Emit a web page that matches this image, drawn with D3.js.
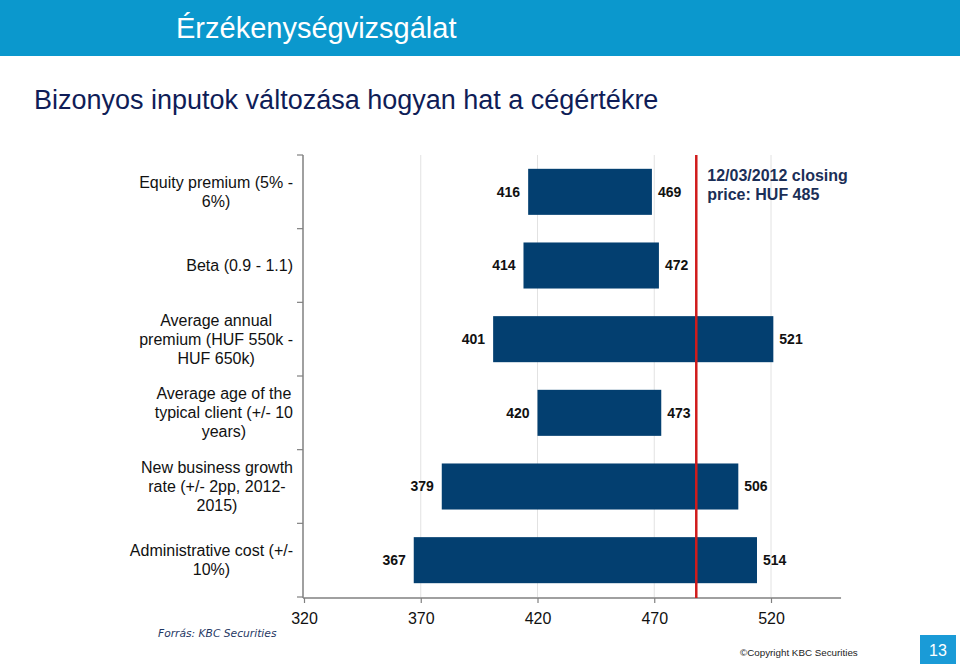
<!DOCTYPE html>
<html>
<head>
<meta charset="utf-8">
<script src="https://cdn.jsdelivr.net/npm/d3@7"></script>
<style>
  html, body { margin: 0; padding: 0; background: #fff; }
  svg { display: block; font-family: "Liberation Sans", Arial, sans-serif; }
</style>
</head>
<body>
<svg id="chart" width="960" height="664"></svg>
<script>
// ---- data ----
const categories = [
  ["Equity premium (5% -", "6%)"],
  ["Beta (0.9 - 1.1)"],
  ["Average annual", "premium (HUF 550k -", "HUF 650k)"],
  ["Average age of the", "typical client (+/- 10", "years)"],
  ["New business growth", "rate (+/- 2pp, 2012-", "2015)"],
  ["Administrative cost (+/-", "10%)"]
];
const lowValues  = [416, 414, 401, 420, 379, 367];
const highValues = [469, 472, 521, 473, 506, 514];
const tickValues = [320, 370, 420, 470, 520];
const xDomain = [320, 550];
const closingLinePosition = 488;   // where the red marker is drawn
const closingLabel = ["12/03/2012 closing", "price: HUF 485"];
const titleText = "Érzékenységvizsgálat";
const subtitleText = "Bizonyos inputok változása hogyan hat a cégértékre";
const sourceText = "Forrás: KBC Securities";
const copyrightText = "©Copyright KBC Securities";
const pageNumber = "13";

// ---- setup ----
const svg = d3.select("#chart");
const W = 960, H = 664;

// header band
svg.append("rect").attr("x", 0).attr("y", 0).attr("width", W).attr("height", 56).attr("fill", "#0b98cd");
svg.append("text").attr("x", 176).attr("y", 38).attr("fill", "#fff")
  .attr("font-size", 29).text(titleText);

svg.append("text").attr("x", 34).attr("y", 109).attr("fill", "#0f1d57")
  .attr("font-size", 27).text(subtitleText);

const keys = categories.map((c, i) => i);
const x = d3.scaleLinear().domain(xDomain).range([304, 304 + 230 * 2.335]);
const y = d3.scaleBand().domain(keys).range([155, 597]).paddingInner(0.375).paddingOuter(0.1875);

const g = svg.append("g");

// gridlines
g.selectAll("line.grid").data(tickValues.filter(d => d !== xDomain[0])).enter()
  .append("line").attr("class", "grid")
  .attr("x1", d => x(d)).attr("x2", d => x(d))
  .attr("y1", y.range()[0]).attr("y2", y.range()[1])
  .attr("stroke", "#e2e2e2").attr("stroke-width", 1);

// bars
g.selectAll("rect.bar").data(keys).enter().append("rect").attr("class", "bar")
  .attr("x", i => x(lowValues[i]))
  .attr("width", i => x(highValues[i]) - x(lowValues[i]))
  .attr("y", i => y(i)).attr("height", y.bandwidth())
  .attr("fill", "#033f70");

// value labels
g.selectAll("text.low").data(keys).enter().append("text")
  .attr("x", i => x(lowValues[i]) - 8)
  .attr("y", i => y(i) + y.bandwidth() / 2)
  .attr("dy", "0.35em").attr("text-anchor", "end")
  .attr("font-size", 14).attr("font-weight", "bold").attr("fill", "#111")
  .text(i => lowValues[i]);
g.selectAll("text.high").data(keys).enter().append("text")
  .attr("x", i => x(highValues[i]) + 6)
  .attr("y", i => y(i) + y.bandwidth() / 2)
  .attr("dy", "0.35em").attr("text-anchor", "start")
  .attr("font-size", 14).attr("font-weight", "bold").attr("fill", "#111")
  .text(i => highValues[i]);

// x axis
const xAxis = d3.axisBottom(x).tickValues(tickValues).tickSize(5).tickSizeOuter(0).tickFormat(d3.format("d"));
const ax = svg.append("g").attr("transform", `translate(0,${y.range()[1] + 1})`).call(xAxis);
ax.select(".domain").attr("stroke", "#808080").attr("stroke-width", 1.5)
  .attr("d", `M${x.range()[0] - 1},0H${x.range()[1]}`);
ax.selectAll(".tick line").attr("stroke", "#808080").attr("stroke-width", 1.2);
ax.selectAll(".tick text").attr("font-size", 16).attr("fill", "#111")
  .attr("font-family", "Liberation Sans, Arial, sans-serif").attr("y", 15);

// y axis (vertical line with boundary ticks pointing left)
const yAxisX = x.range()[0] - 1;
svg.append("line").attr("x1", yAxisX).attr("x2", yAxisX)
  .attr("y1", y.range()[0]).attr("y2", y.range()[1] + 1)
  .attr("stroke", "#808080").attr("stroke-width", 1.5);
const boundaries = d3.range(keys.length + 1).map(k => y.range()[0] + k * y.step());
svg.selectAll("line.ytick").data(boundaries).enter().append("line")
  .attr("x1", yAxisX - 6).attr("x2", yAxisX)
  .attr("y1", d => d).attr("y2", d => d)
  .attr("stroke", "#808080").attr("stroke-width", 1.2);

// category labels: lines centred within block, block right-aligned
const labelRight = 293, lineH = 19;
categories.forEach((lines, i) => {
  const t = svg.append("text").attr("font-size", 16).attr("fill", "#111").attr("text-anchor", "middle");
  const spans = lines.map(l => t.append("tspan").text(l));
  const maxW = d3.max(spans.map(s => s.node().getComputedTextLength()));
  const cx = labelRight - maxW / 2;
  const cy = y(i) + y.bandwidth() / 2;
  const top = cy - (lines.length - 1) * lineH / 2;
  spans.forEach((s, k) => s.attr("x", cx).attr("y", top + k * lineH).attr("dy", "0.35em"));
});

// red closing-price line
svg.append("line").attr("x1", x(closingLinePosition)).attr("x2", x(closingLinePosition))
  .attr("y1", y.range()[0]).attr("y2", y.range()[1] + 1)
  .attr("stroke", "#d01c1c").attr("stroke-width", 2.5);
const ann = svg.append("text").attr("font-size", 16).attr("font-weight", "bold").attr("fill", "#1b2f57");
closingLabel.forEach((l, k) => ann.append("tspan").attr("x", x(closingLinePosition) + 11)
  .attr("y", 181 + k * 19).text(l));

// footer
svg.append("text").attr("x", 158).attr("y", 637).attr("font-size", 10.7)
  .attr("font-style", "italic").attr("font-family", "DejaVu Sans, Verdana, sans-serif")
  .attr("fill", "#1f3864").text(sourceText);
svg.append("text").attr("x", 740).attr("y", 656).attr("font-size", 9.8).attr("fill", "#222")
  .text(copyrightText);
svg.append("rect").attr("x", 920).attr("y", 635).attr("width", 36).attr("height", 29).attr("fill", "#1a9bd7");
svg.append("text").attr("x", 938).attr("y", 650).attr("dy", "0.35em").attr("text-anchor", "middle")
  .attr("font-size", 16).attr("fill", "#fff").text(pageNumber);
</script>
</body>
</html>
